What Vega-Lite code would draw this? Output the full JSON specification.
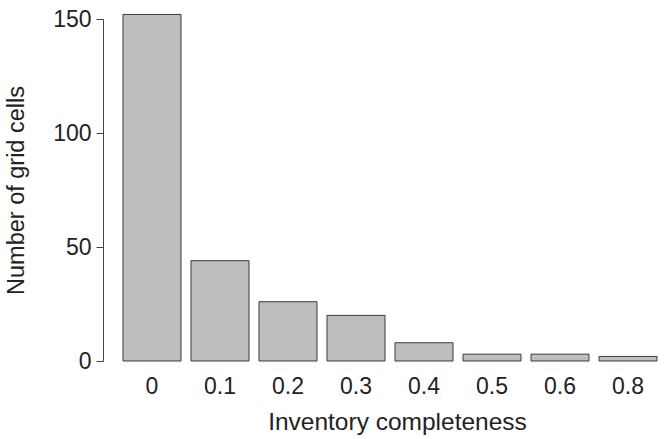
{
  "$schema": "https://vega.github.io/schema/vega-lite/v6.json",
  "autosize": "none",
  "padding": {"left": 103, "top": 19, "right": 4, "bottom": 78},
  "width": 557,
  "height": 342,
  "background": "white",
  "config": {"view": {"stroke": null}, "font": "Liberation Sans"},
  "data": {"values": [
    {"completeness": "0", "cells": 152},
    {"completeness": "0.1", "cells": 44},
    {"completeness": "0.2", "cells": 26},
    {"completeness": "0.3", "cells": 20},
    {"completeness": "0.4", "cells": 8},
    {"completeness": "0.5", "cells": 3},
    {"completeness": "0.6", "cells": 3},
    {"completeness": "0.8", "cells": 2}
  ]},
  "mark": {"type": "bar", "fill": "#bebebe", "stroke": "#3a3a3a", "strokeWidth": 1, "clip": false},
  "encoding": {
    "x": {
      "field": "completeness", "type": "ordinal", "sort": null,
      "scale": {"paddingInner": 0.147, "paddingOuter": 0.169, "align": 0.87},
      "axis": {"title": "Inventory completeness", "titleFontSize": 24.5, "titleFontWeight": "normal", "titleColor": "#222", "titlePadding": 12, "titleX": 294,
               "labelAngle": 0, "labelFontSize": 23, "labelColor": "#222", "labelPadding": 14,
               "domain": false, "ticks": false}
    },
    "y": {
      "field": "cells", "type": "quantitative",
      "scale": {"domain": [0, 150], "nice": false},
      "axis": {"title": "Number of grid cells", "titleFontSize": 23.5, "titleFontWeight": "normal", "titleColor": "#222", "titlePadding": 24, "titleY": 171,
               "values": [0, 50, 100, 150], "labelFontSize": 23, "labelColor": "#222", "labelPadding": 5,
               "domainColor": "#444", "tickColor": "#444", "tickSize": 7, "grid": false}
    }
  }
}
